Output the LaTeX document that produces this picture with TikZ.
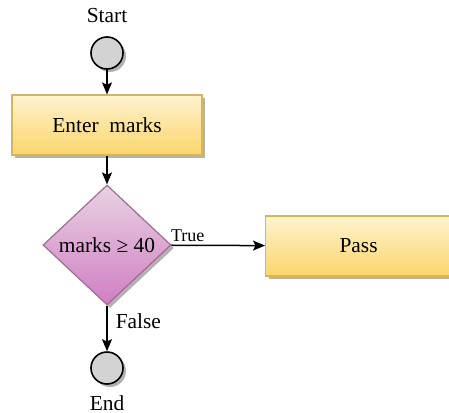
\documentclass[tikz,border=0pt]{standalone}
\usepackage{fontspec}
\setmainfont{Liberation Serif}
\usetikzlibrary{arrows.meta, shapes.geometric, shadows}

\definecolor{boxtop}{HTML}{FFF3CF}
\definecolor{boxbot}{HTML}{FAD56A}
\definecolor{boxline}{HTML}{D6B656}
\definecolor{dectop}{HTML}{E8D2E2}
\definecolor{decbot}{HTML}{D07EC3}
\definecolor{decline}{HTML}{A06C90}
\definecolor{termfill}{HTML}{D3D3D3}

\tikzset{
	shade/.style = {drop shadow={shadow xshift=1.5pt, shadow yshift=-1.5pt, opacity=0.3, fill=black}},
	terminal/.style = {circle, draw=black, line width=0.8pt, fill=termfill, minimum size=16pt, inner sep=0pt, shade},
	process/.style = {rectangle, draw=boxline, line width=0.6pt, top color=boxtop, bottom color=boxbot, minimum width=95pt, minimum height=30pt, shade},
	decision/.style = {diamond, draw=decline, line width=0.6pt, top color=dectop, bottom color=decbot, minimum width=64pt, minimum height=60pt, inner sep=0pt, shade},
	flow/.style = {-{Stealth[length=6pt, width=5pt, inset=1.2pt]}, line width=0.75pt},
	every node/.style = {font=\rmfamily\fontsize{10.7pt}{13pt}\selectfont}
}

\begin{document}
\begin{tikzpicture}[x=0.5pt, y=-0.5pt]
	\useasboundingbox (0, 0) rectangle (449, 412);
	\clip (0, 0) rectangle (449, 412);

	\node (startlbl) at (107, 16) {Start};
	\node[terminal] (start) at (107, 53) {};
	\node[process] (enter) at (107, 125) {Enter~ marks};
	\node[decision] (cond) at (107, 245) {marks ≥ 40};
	% box runs past the right edge
	\node[process, minimum width=110pt, anchor=west] (pass) at (265, 246) {\hspace*{-17pt}Pass};
	\node[terminal] (end) at (107, 368) {};
	\node (endlbl) at (107, 403) {End};

	\draw[flow] (start) -- (enter);
	\draw[flow] (enter) -- (cond);
	\draw[flow] (cond) -- node[pos=0, anchor=south west, inner sep=0.5pt, xshift=-1pt, yshift=1pt, font=\rmfamily\fontsize{9pt}{10pt}\selectfont] {True} (pass);
	\draw[flow] (cond) -- node[right, pos=0.35, inner sep=4pt] {False} (end);
\end{tikzpicture}
\end{document}
